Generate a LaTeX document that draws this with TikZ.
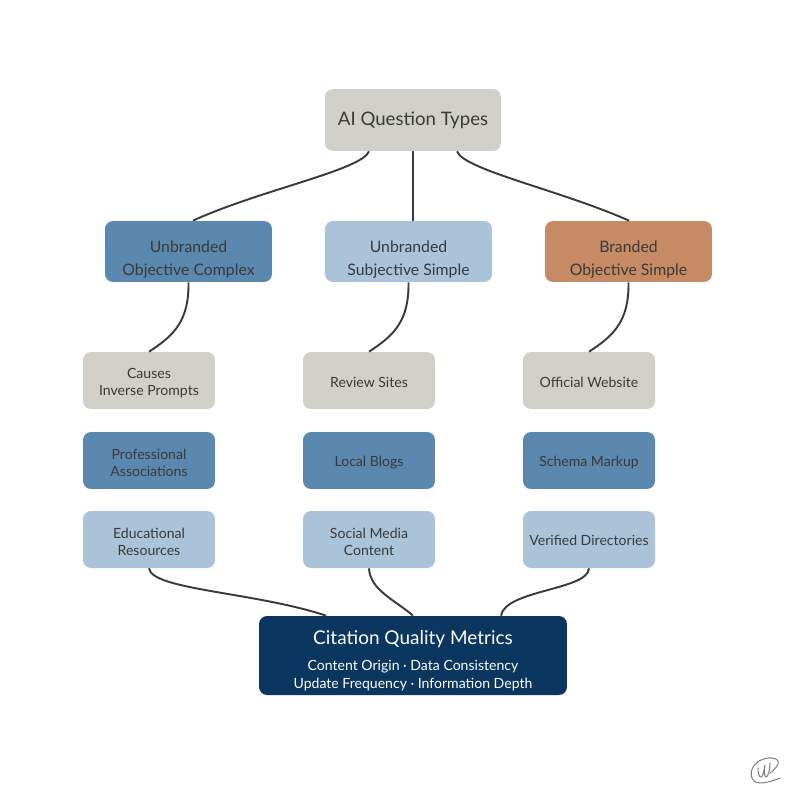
\documentclass[tikz,border=0pt]{standalone}
\usepackage{fontspec}
\setmainfont{Lato}
\usetikzlibrary{calc}
\definecolor{stone}{HTML}{D0D0C6}
\definecolor{steel}{HTML}{5B88AF}
\definecolor{pale}{HTML}{ABC3D9}
\definecolor{clay}{HTML}{C68B65}
\definecolor{navy}{HTML}{0A365F}
\definecolor{ink}{HTML}{3A3A3A}
\newcommand{\topgap}[1]{\rule{0pt}{#1}}
\tikzset{box/.style={rounded corners=0.16cm, inner sep=0pt, align=center, text=ink}}
\tikzset{topbox/.style={box, fill=stone, minimum width=3.52cm, minimum height=1.24cm, font=\fontsize{10.6}{12}\selectfont}}
\tikzset{midbox/.style={box, minimum width=3.34cm, minimum height=1.22cm, font=\fontsize{9}{13}\selectfont}}
\tikzset{leaf/.style={box, minimum width=2.64cm, minimum height=1.14cm, font=\fontsize{8}{9.8}\selectfont}}
\tikzset{metrics/.style={box, fill=navy, text=white, minimum width=6.16cm, minimum height=1.58cm, font=\fontsize{8}{10.2}\selectfont}}
\tikzset{wire/.style={draw=ink, line width=1.1pt}}
\begin{document}
\begin{tikzpicture}[x=0.02cm,y=-0.02cm]
\useasboundingbox (0,0) rectangle (800,800);

\node[topbox] (root) at (413,120) {AI Question Types};

\node[midbox, fill=steel] (complex) at (188.5,251.5) {\topgap{16pt}Unbranded\\Objective Complex};
\node[midbox, fill=pale] (subjective) at (408.5,251.5) {\topgap{16pt}Unbranded\\Subjective Simple};
\node[midbox, fill=clay] (branded) at (628.5,251.5) {\topgap{16pt}Branded\\Objective Simple};

\node[leaf, fill=stone] (causes) at (149,380.5) {\topgap{9pt}Causes\\Inverse Prompts};
\node[leaf, fill=steel] (assoc) at (149,460.5) {\topgap{9pt}Professional\\Associations};
\node[leaf, fill=pale] (edu) at (149,539.5) {\topgap{9pt}Educational\\Resources};

\node[leaf, fill=stone] (review) at (369,380.5) {\topgap{8pt}Review Sites};
\node[leaf, fill=steel] (blogs) at (369,460.5) {\topgap{8pt}Local Blogs};
\node[leaf, fill=pale] (social) at (369,539.5) {\topgap{9pt}Social Media\\Content};

\node[leaf, fill=stone] (official) at (589,380.5) {\topgap{8pt}Official Website};
\node[leaf, fill=steel] (schema) at (589,460.5) {\topgap{8pt}Schema Markup};
\node[leaf, fill=pale] (verified) at (589,539.5) {\topgap{6.5pt}Verified Directories};

\node[metrics] (quality) at (413,655.5) {\topgap{13.8pt}{\fontsize{10.8}{12}\selectfont Citation Quality Metrics}\\[5pt]
  Content Origin · Data Consistency\\Update Frequency · Information Depth};

\draw[wire] ($(root.south)+(-44,0)$) .. controls (362,170) and (260,190) .. ($(complex.north)+(4.5,0)$);
\draw[wire] (root.south) -- (root.south |- subjective.north);
\draw[wire] ($(root.south)+(44,0)$) .. controls (464,170) and (560,190) .. ($(branded.north)+(0.5,0)$);

\draw[wire] (complex.south) .. controls (189,320) and (175,335) .. (causes.north);
\draw[wire] (subjective.south) .. controls (409,320) and (395,335) .. (review.north);
\draw[wire] (branded.south) .. controls (629,320) and (615,335) .. (official.north);

\draw[wire] (edu.south) .. controls (152,590) and (255,592) .. ($(quality.north)+(-87,0)$);
\draw[wire] (social.south) .. controls (370,590) and (395,600) .. (quality.north);
\draw[wire] (verified.south) .. controls (588,590) and (505,590) .. ($(quality.north)+(88,0)$);

% signature mark
\draw[gray, line width=0.6pt, line cap=round] (780,778) .. controls (770,782) and (760,785) .. (754,781)
  .. controls (748,775) and (752,764) .. (761,760) .. controls (770,756) and (780,758) .. (778,764)
  .. controls (776,768) and (773,771) .. (770,773);
\draw[gray, line width=0.6pt, line cap=round] (758,768) .. controls (758,773) and (759,777) .. (761,777)
  .. controls (763,777) and (764,770) .. (765,765) .. controls (764,770) and (764,777) .. (766,777)
  .. controls (768,777) and (770,770) .. (770,763);
\end{tikzpicture}
\end{document}
